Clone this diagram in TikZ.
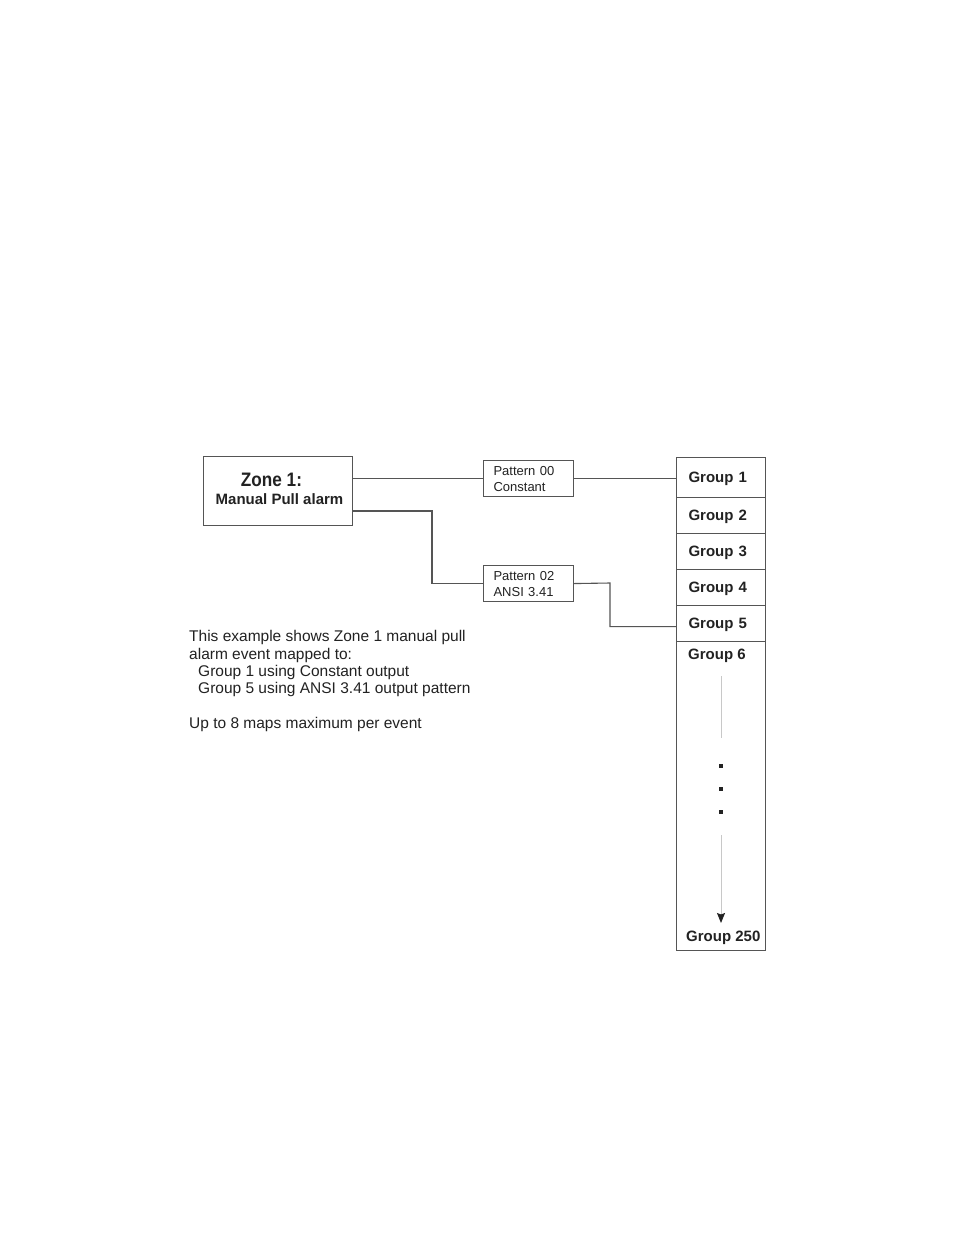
\documentclass[tikz,border=0pt]{standalone}
\usepackage{fontspec}
\setmainfont{Liberation Sans}
\usetikzlibrary{arrows.meta,calc}
\definecolor{edge}{HTML}{555555}
\definecolor{ink}{HTML}{222222}
\definecolor{faint}{HTML}{C8C8C8}
\begin{document}
\begin{tikzpicture}[x=1pt,y=-1pt,
  box/.style={draw=edge,line width=1.1pt,rectangle,inner sep=0pt,text=ink},
  patbox/.style={box,minimum width=90pt,minimum height=36pt,text width=70pt,inner xsep=10pt,align=left,
     font=\fontsize{13}{16}\selectfont},
  cell/.style={box,minimum width=89pt,text width=65pt,inner xsep=12pt,align=left,
     font=\fontsize{15}{18}\bfseries\selectfont,text height=11pt,text depth=2pt},
  wire/.style={draw=edge,line width=1.1pt},
  para/.style={anchor=base west,inner sep=0pt,text=ink,font=\fontsize{15.5}{18}\selectfont},
  lbl/.style={anchor=base,inner sep=0pt,text=ink},
  dot/.style={fill=ink,minimum size=4.5pt,inner sep=0pt,rectangle}
]
\useasboundingbox[fill=white] (0,0) rectangle (954,1235);

% zone box
\node[box,minimum width=149pt,minimum height=69pt,anchor=north west] (zone) at (203,456) {};
\node[lbl,font=\fontsize{19.5}{21}\bfseries\selectfont] (zt1) at (271.5,486)
  {\scalebox{0.88}[1]{Zone 1:}};
\node[lbl,font=\fontsize{15}{18}\bfseries\selectfont] (zt2) at (279.5,504.5) {Manual Pull alarm};

% pattern boxes
\node[patbox,anchor=north west] (p0) at (483,460) {Pattern 00\\Constant};
\node[patbox,anchor=north west] (p2) at (483,565) {Pattern 02\\ANSI 3.41};

% group column
\node[cell,minimum height=40pt,anchor=north west] (g1) at (676,457) {Group 1};
\node[cell,minimum height=36pt,anchor=north west] (g2) at (676,497) {Group 2};
\node[cell,minimum height=36pt,anchor=north west] (g3) at (676,533) {Group 3};
\node[cell,minimum height=36pt,anchor=north west] (g4) at (676,569) {Group 4};
\node[cell,minimum height=36pt,anchor=north west] (g5) at (676,605) {Group 5};
\node[box,minimum width=89pt,minimum height=309pt,anchor=north west] (g6) at (676,641) {};
\node[anchor=base west,inner sep=0pt,text=ink,font=\fontsize{15}{18}\bfseries\selectfont] (g6t) at (688,659) {Group 6};
\node[anchor=base west,inner sep=0pt,text=ink,font=\fontsize{15}{18}\bfseries\selectfont] (g250) at (686,941) {Group 250};

% continuation marks
\coordinate (v1a) at (721,676);
\coordinate (v1b) at (721,738);
\coordinate (v2a) at (721,835);
\coordinate (v2b) at (721,923);
\draw[faint,line width=1pt] (v1a) -- (v1b);
\draw[faint,line width=1pt,-{Stealth[ink,length=10pt,width=8pt,inset=1.5pt]}] (v2a) -- (v2b);
\node[dot] (d1) at (721,766) {};
\node[dot] (d2) at (721,789) {};
\node[dot] (d3) at (721,812) {};

% connectors
\draw[wire] (zone.east |- p0.west) -- (p0.west);
\draw[wire] (p0.east) -- (g1.west |- p0.east);
\coordinate (z2) at (352,511);
\draw[wire] (z2) -- (432,511) |- (p2.west);
\draw[wire] (p2.east) -- (610,583) |- ($(g5.west)+(0,3)$);

% description
\node[para] (t1) at (189,641.5) {This example shows Zone 1 manual pull};
\node[para] (t2) at (189,659) {alarm event mapped to:};
\node[para] (t3) at (189,676.5) {\hspace*{9pt}Group 1 using Constant output};
\node[para] (t4) at (189,693.5) {\hspace*{9pt}Group 5 using ANSI 3.41 output pattern};
\node[para] (t5) at (189,728.5) {Up to 8 maps maximum per event};
\end{tikzpicture}
\end{document}
